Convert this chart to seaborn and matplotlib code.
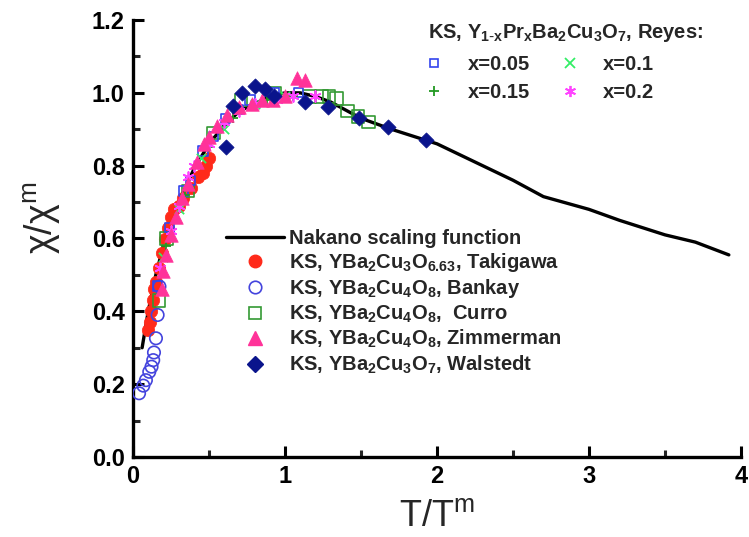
import matplotlib
matplotlib.use("Agg")
import matplotlib.pyplot as plt
import seaborn as sns
import numpy as np
import pandas as pd
from matplotlib.lines import Line2D
from matplotlib.ticker import MultipleLocator, FormatStrFormatter

# ---------------- data ----------------
nakano_x = [0.06, 0.10, 0.15, 0.20, 0.30, 0.40, 0.50, 0.60, 0.70, 0.80, 0.90, 1.00, 1.10,
            1.20, 1.30, 1.50, 1.70, 2.00, 2.30, 2.50, 2.70, 3.00, 3.20, 3.50, 3.70, 3.92]
nakano_y = [0.30, 0.40, 0.50, 0.58, 0.70, 0.79, 0.86, 0.91, 0.95, 0.97, 0.99, 1.00, 1.00,
            0.99, 0.975, 0.93, 0.90, 0.86, 0.80, 0.76, 0.715, 0.68, 0.65, 0.61, 0.59, 0.555]

taki_x = [0.10, 0.11, 0.12, 0.13, 0.14, 0.15, 0.17, 0.19, 0.21, 0.23, 0.25, 0.27, 0.30, 0.33,
          0.38, 0.43, 0.46, 0.48, 0.50]
taki_y = [0.35, 0.37, 0.40, 0.43, 0.46, 0.48, 0.52, 0.56, 0.60, 0.63, 0.66, 0.68, 0.69, 0.71,
          0.74, 0.77, 0.78, 0.80, 0.82]

bank_x = [0.04, 0.068, 0.085, 0.107, 0.122, 0.133, 0.138, 0.151, 0.162, 0.174]
bank_y = [0.175, 0.196, 0.211, 0.234, 0.248, 0.266, 0.287, 0.326, 0.39, 0.468]

curro_x = [0.17, 0.22, 0.36, 0.53, 0.71, 0.93, 1.16, 1.24, 1.29, 1.34, 1.41, 1.48, 1.55]
curro_y = [0.43, 0.60, 0.73, 0.89, 0.98, 1.00, 0.99, 0.99, 0.99, 0.985, 0.95, 0.935, 0.92]

zimm_x = [0.19, 0.20, 0.22, 0.25, 0.28, 0.32, 0.36, 0.42, 0.47, 0.50, 0.55, 0.62, 0.70, 0.78,
          0.85, 0.92, 1.00, 1.08, 1.13]
zimm_y = [0.46, 0.51, 0.555, 0.61, 0.66, 0.71, 0.75, 0.81, 0.86, 0.88, 0.91, 0.94, 0.96, 0.97,
          0.98, 0.98, 0.99, 1.04, 1.035]

wal_x = [0.61, 0.66, 0.72, 0.80, 0.87, 0.93, 1.13, 1.28, 1.49, 1.68, 1.93]
wal_y = [0.85, 0.965, 1.00, 1.02, 1.01, 0.99, 0.975, 0.96, 0.93, 0.905, 0.87]

r05_x = [0.16, 0.24, 0.33, 0.38, 0.46, 0.53, 0.61, 0.69, 0.77, 0.93, 1.09]
r05_y = [0.47, 0.63, 0.73, 0.76, 0.84, 0.88, 0.93, 0.955, 0.98, 1.00, 1.00]

r10_x = [0.20, 0.30, 0.45, 0.60, 0.80, 1.00]
r10_y = [0.55, 0.68, 0.82, 0.90, 0.97, 0.99]

r15_x = [0.22, 0.34, 0.50, 0.66, 0.88, 1.05]
r15_y = [0.58, 0.72, 0.85, 0.93, 0.98, 0.99]

r20_x = [0.18, 0.25, 0.30, 0.36, 0.40, 0.50, 0.60, 0.70, 0.80, 0.95, 1.05, 1.20]
r20_y = [0.52, 0.62, 0.69, 0.77, 0.80, 0.86, 0.92, 0.95, 0.97, 0.98, 0.99, 0.99]

main_labels = ["Nakano scaling function",
               r"KS, YBa$_2$Cu$_3$O$_{6.63}$, Takigawa",
               r"KS, YBa$_2$Cu$_4$O$_8$, Bankay",
               r"KS, YBa$_2$Cu$_4$O$_8$,  Curro",
               r"KS, YBa$_2$Cu$_4$O$_8$, Zimmerman",
               r"KS, YBa$_2$Cu$_3$O$_7$, Walstedt"]
reyes_title = r"KS, Y$_{1\text{-}x}$Pr$_x$Ba$_2$Cu$_3$O$_7$, Reyes:"
reyes_labels = ["x=0.05", "x=0.1", "x=0.15", "x=0.2"]

# ---------------- style ----------------
sns.set_style("ticks")
plt.rcParams["font.family"] = ["Liberation Sans", "DejaVu Sans"]
plt.rcParams["mathtext.default"] = "regular"

fig = plt.figure(figsize=(7.49, 5.37), dpi=100)
ax = fig.add_axes([133/749, 80/537, (741-133)/749, (457-20)/537])

red = "#FF2A1A"
blue_o = "#4444DD"
green_sq = "#339933"
pink = "#FF3399"
navy = "#0A148C"
blue_sq = "#3344EE"
lgreen = "#33EE66"
green_p = "#229922"
magenta = "#FF44FF"

sns.lineplot(x=nakano_x, y=nakano_y, ax=ax, color="black", lw=2.4, sort=False, zorder=2)

def sc(x, y, **kw):
    sns.scatterplot(x=x, y=y, ax=ax, legend=False, zorder=3, **kw)

sc(taki_x, taki_y, marker="o", s=80, color=red, edgecolor=red, linewidth=0.5)
sc(bank_x, bank_y, marker="o", s=80, facecolor="none", edgecolor=blue_o, linewidth=1.2)
sc(curro_x, curro_y, marker="s", s=80, facecolor="none", edgecolor=green_sq, linewidth=1.2)
sc(r05_x, r05_y, marker="s", s=45, facecolor="none", edgecolor=blue_sq, linewidth=1.2)
sc(r10_x, r10_y, marker="x", s=45, color=lgreen, linewidth=1.3)
sc(r15_x, r15_y, marker="+", s=45, color=green_p, linewidth=1.3)
sc(r20_x, r20_y, marker=(6, 2, 0), s=60, color=magenta, linewidth=1.3)
sc(zimm_x, zimm_y, marker="^", s=95, color=pink, edgecolor=pink, linewidth=0.5)
sc(wal_x, wal_y, marker="D", s=60, color=navy, edgecolor=navy, linewidth=0.5)

# ---------------- axes ----------------
ax.set_xlim(0, 4)
ax.set_ylim(0, 1.2)
ax.xaxis.set_major_locator(MultipleLocator(1))
ax.xaxis.set_minor_locator(MultipleLocator(0.5))
ax.yaxis.set_major_locator(MultipleLocator(0.2))
ax.yaxis.set_minor_locator(MultipleLocator(0.1))
ax.yaxis.set_major_formatter(FormatStrFormatter("%.1f"))
for s in ["top", "right"]:
    ax.spines[s].set_visible(False)
for s in ["left", "bottom"]:
    ax.spines[s].set_linewidth(2.4)
    ax.spines[s].set_color("black")
ax.tick_params(which="major", direction="in", length=8, width=2.2, labelsize=17, pad=6,
               colors="black")
ax.tick_params(which="minor", direction="in", length=5, width=2.2)
for lab in ax.get_xticklabels() + ax.get_yticklabels():
    lab.set_fontweight("bold")
ax.set_xlabel(r"T/T$^{m}$", fontsize=26)
ax.xaxis.set_label_coords(0.5, -0.095)
ax.set_ylabel(r"$\chi$/$\chi^{m}$", fontsize=27)
ax.yaxis.set_label_coords(-0.115, 0.547)

# ---------------- legends ----------------
h_main = [Line2D([], [], color="black", lw=2.4),
          Line2D([], [], ls="none", marker="o", ms=9, color=red),
          Line2D([], [], ls="none", marker="o", ms=9, mfc="none", mec=blue_o, mew=1.2),
          Line2D([], [], ls="none", marker="s", ms=9, mfc="none", mec=green_sq, mew=1.2),
          Line2D([], [], ls="none", marker="^", ms=10, color=pink),
          Line2D([], [], ls="none", marker="D", ms=8, color=navy)]
leg1 = fig.legend(h_main, main_labels, loc="upper left", bbox_to_anchor=(226/749, 1 - 229/537),
                  frameon=False, prop={"weight": "bold", "size": 14.5}, handlelength=2.9,
                  handletextpad=0.25, labelspacing=0.16, borderpad=0, borderaxespad=0)

h_rey = [Line2D([], [], ls="none", marker="s", ms=6, mfc="none", mec=blue_sq, mew=1.2),
         Line2D([], [], ls="none", marker="+", ms=7, color=green_p, mew=1.3),
         Line2D([], [], ls="none", marker="x", ms=7, color=lgreen, mew=1.3),
         Line2D([], [], ls="none", marker=(6, 2, 0), ms=8, color=magenta, mew=1.3)]
lab_rey = [reyes_labels[0], reyes_labels[2], reyes_labels[1], reyes_labels[3]]
leg2 = fig.legend(h_rey, lab_rey, ncol=2, loc="upper left",
                  bbox_to_anchor=(414/749, 1 - 55/537), frameon=False,
                  prop={"weight": "bold", "size": 14.5}, handlelength=2.0,
                  handletextpad=0.65, columnspacing=1.0, labelspacing=0.45,
                  borderpad=0, borderaxespad=0)
fig.text(428/749, 1 - 33/537, reyes_title, fontsize=14.5, fontweight="bold",
         va="center", ha="left")

fig.savefig("out.png", dpi=100)
